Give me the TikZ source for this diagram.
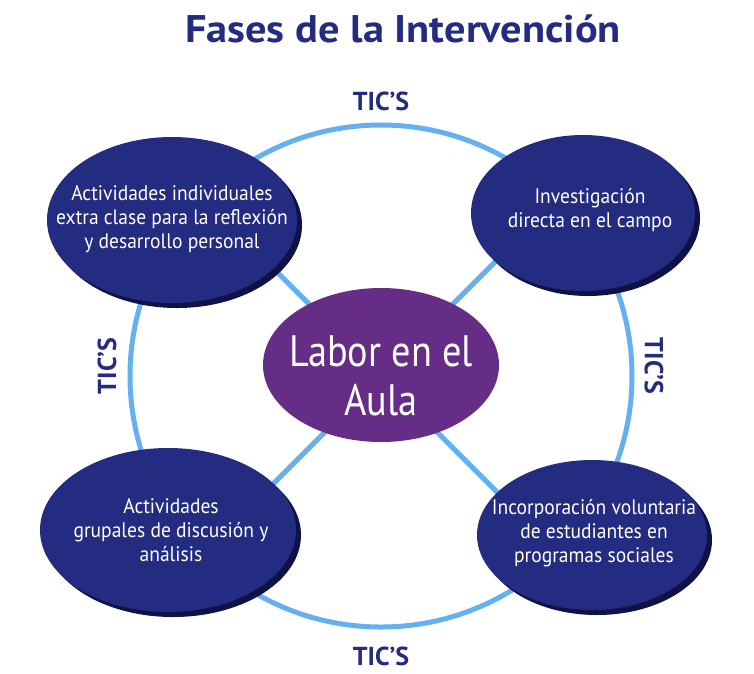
\documentclass[tikz,border=0pt]{standalone}
\usepackage{fontspec}
\setmainfont{PT Sans}
\newfontfamily\titlefont[FakeStretch=1.1]{PT Sans Bold}
\newfontfamily\ticfont{PT Sans Bold}
\newfontfamily\phasefont[FakeStretch=0.93]{PT Sans}
\newfontfamily\corefont[FakeStretch=0.87]{PT Sans}
\usetikzlibrary{shapes.geometric,shadows,backgrounds}
\definecolor{navy}{HTML}{232C80}
\definecolor{navyshadow}{HTML}{0E1246}
\definecolor{ringblue}{HTML}{64B0F0}
\definecolor{purple}{HTML}{652D85}
\tikzset{
  phase/.style={ellipse, fill=navy, inner sep=0pt,
    drop shadow={shadow xshift=5pt, shadow yshift=-5pt, fill=navyshadow, opacity=1}},
  phasetext/.style={text=white, align=center, inner sep=0pt,
    font=\phasefont\fontsize{21}{24}\selectfont},
  core/.style={ellipse, fill=purple, inner sep=0pt},
  coretext/.style={text=white, align=center, inner sep=0pt,
    font=\corefont\fontsize{44}{49}\selectfont},
  ring/.style={draw=ringblue, line width=5pt},
  tics/.style={text=navy, inner sep=0pt, font=\ticfont\fontsize{26}{28}\selectfont}
}
\begin{document}
\begin{tikzpicture}[x=1pt,y=-1pt]
\useasboundingbox (0,0) rectangle (754,673);
\node[text=navy, inner sep=0pt, anchor=base, font=\titlefont\fontsize{38.5}{42}\selectfont] (title) at (403,42) {Fases de la Intervención};
\coordinate (o) at (381,376);
\coordinate (dtl) at (203.5,198.5);
\coordinate (dtr) at (558.5,198.5);
\coordinate (dbl) at (203.5,553.5);
\coordinate (dbr) at (558.5,553.5);
\draw[ring] (o) circle[radius=251];
\node[core, minimum width=236pt, minimum height=154pt] (c) at (381,365) {};
\node[coretext] (ct) at (381,376) {Labor en el\\Aula};
\node[phase, minimum width=250pt, minimum height=166pt] (tl) at (172,220) {};
\node[phasetext] (tlt) at (172,219) {Actividades individuales\\extra clase para la reflexión\\y desarrollo personal};
\node[phase, minimum width=224pt, minimum height=156pt] (tr) at (583,213) {};
\node[phasetext] (trt) at (590,210) {Investigación\\directa en el campo};
\node[phase, minimum width=256pt, minimum height=164pt] (bl) at (168,530) {};
\node[phasetext] (blt) at (171,530) {Actividades\\grupales de discusión y\\análisis};
\node[phase, minimum width=230pt, minimum height=150pt] (br) at (592,535) {};
\node[phasetext] (brt) at (594,533) {Incorporación voluntaria\\de estudiantes en\\programas sociales};
\begin{scope}[on background layer]
\fill[white] (0,0) rectangle (754,673);
\draw[ring] (o) -- (dtl);
\draw[ring] (o) -- (dtr);
\draw[ring] (o) -- (dbl);
\draw[ring] (o) -- (dbr);
\end{scope}
\node[tics, anchor=base] (t1) at (381,110) {TIC’S};
\node[tics, rotate=90] (t2) at (107,366) {TIC’S};
\node[tics, rotate=-90] (t3) at (654,366) {TIC’S};
\node[tics, anchor=base] (t4) at (381,665) {TIC’S};
\end{tikzpicture}
\end{document}
